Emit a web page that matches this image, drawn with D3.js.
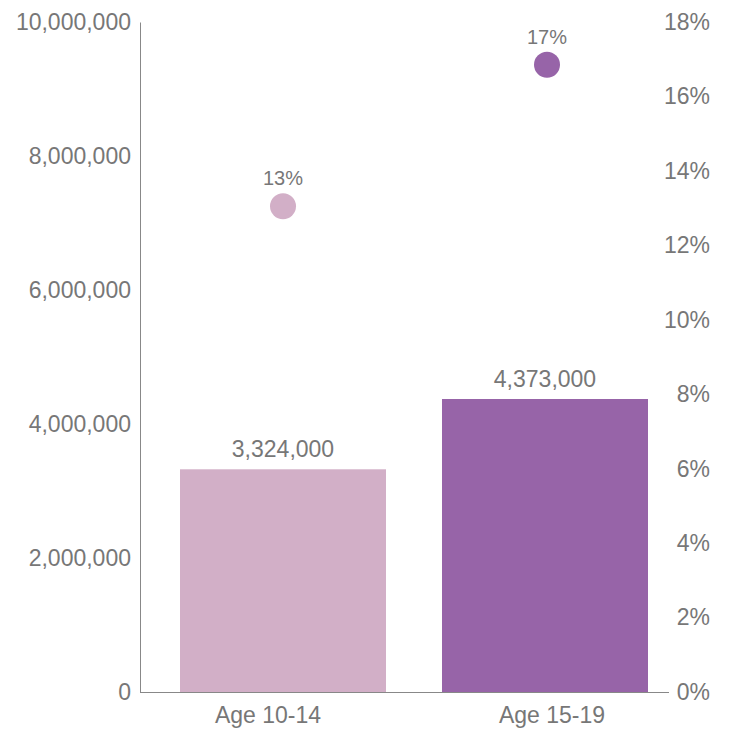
<!doctype html>
<html lang="en">
<head>
  <meta charset="utf-8">
  <script src="https://cdn.jsdelivr.net/npm/d3@7"></script>
</head>

<style>
    body {
        margin: 0;
        background-color: white;
        font-family: "Liberation Sans", Arial, Helvetica, sans-serif;
    }
</style>

<body>
</body>

<script>

    // data
    let categories = ['Age 10-14', 'Age 15-19']
    let counts = [3324000, 4373000]
    let shares = [13.05, 16.85]
    let shareLabels = ['13%', '17%']
    let colors = ['#d2afc7', '#9764a8']

    let countTicks = [0, 2000000, 4000000, 6000000, 8000000, 10000000]
    let shareTicks = [0, 2, 4, 6, 8, 10, 12, 14, 16, 18]

    let textColor = '#777'
    let font = '"Liberation Sans", Arial, sans-serif'

    let svg = d3.select('body')
        .append('svg')
        .attr('width', 730)
        .attr('height', 732)

    let x = d3.scaleBand()
        .domain(categories)
        .range([180, 648])
        .paddingInner(0.2137)
        .paddingOuter(0)

    // the category labels sit on a slightly wider spread than the bars
    let xLabel = d3.scalePoint()
        .domain(categories)
        .range([268, 552])

    let y = d3.scaleLinear()
        .domain([0, 10000000])
        .range([692, 22])

    let y2 = d3.scaleLinear()
        .domain([0, 18])
        .range([692, 22])

    let fmt = d3.format(',')

    // left axis
    let left = svg.append('g')
        .attr('transform', 'translate(140,0)')
        .call(d3.axisLeft(y).tickValues(countTicks).tickFormat(fmt).tickSize(0).tickPadding(9))
    left.select('.domain').attr('stroke', '#888')
    left.selectAll('text')
        .attr('fill', textColor)
        .style('font-size', '23px')
        .style('font-family', font)

    // right axis, no line
    let right = svg.append('g')
        .attr('transform', 'translate(710,0)')
        .call(d3.axisLeft(y2).tickValues(shareTicks).tickFormat(d => d + '%').tickSize(0).tickPadding(0))
    right.select('.domain').remove()
    right.selectAll('text')
        .attr('fill', textColor)
        .style('font-size', '23px')
        .style('font-family', font)

    // bars
    svg.selectAll('.bar')
        .data(categories)
        .enter()
        .append('rect')
        .attr('class', 'bar')
        .attr('x', d => x(d))
        .attr('width', x.bandwidth())
        .attr('y', (d, i) => y(counts[i]))
        .attr('height', (d, i) => y(0) - y(counts[i]))
        .attr('fill', (d, i) => colors[i])

    svg.selectAll('.barLabel')
        .data(categories)
        .enter()
        .append('text')
        .attr('class', 'barLabel')
        .attr('x', d => x(d) + x.bandwidth() / 2)
        .attr('y', (d, i) => y(counts[i]) - 12)
        .attr('text-anchor', 'middle')
        .attr('fill', textColor)
        .style('font-size', '23px')
        .text((d, i) => fmt(counts[i]))

    // baseline
    svg.append('line')
        .attr('x1', 140)
        .attr('x2', 669)
        .attr('y1', y(0) + 0.5)
        .attr('y2', y(0) + 0.5)
        .attr('stroke', '#888')

    // dots
    svg.selectAll('.dot')
        .data(categories)
        .enter()
        .append('circle')
        .attr('class', 'dot')
        .attr('cx', (d, i) => x(d) + x.bandwidth() / 2 + i * 2)
        .attr('cy', (d, i) => y2(shares[i]))
        .attr('r', 13)
        .attr('fill', (d, i) => colors[i])

    svg.selectAll('.dotLabel')
        .data(categories)
        .enter()
        .append('text')
        .attr('class', 'dotLabel')
        .attr('x', (d, i) => x(d) + x.bandwidth() / 2 + i * 2)
        .attr('y', (d, i) => y2(shares[i]) - 21)
        .attr('text-anchor', 'middle')
        .attr('fill', textColor)
        .style('font-size', '20px')
        .text((d, i) => shareLabels[i])

    // category labels
    svg.selectAll('.catLabel')
        .data(categories)
        .enter()
        .append('text')
        .attr('class', 'catLabel')
        .attr('x', d => xLabel(d))
        .attr('y', 723)
        .attr('text-anchor', 'middle')
        .attr('fill', textColor)
        .style('font-size', '23px')
        .text(d => d)

</script>

</html>
